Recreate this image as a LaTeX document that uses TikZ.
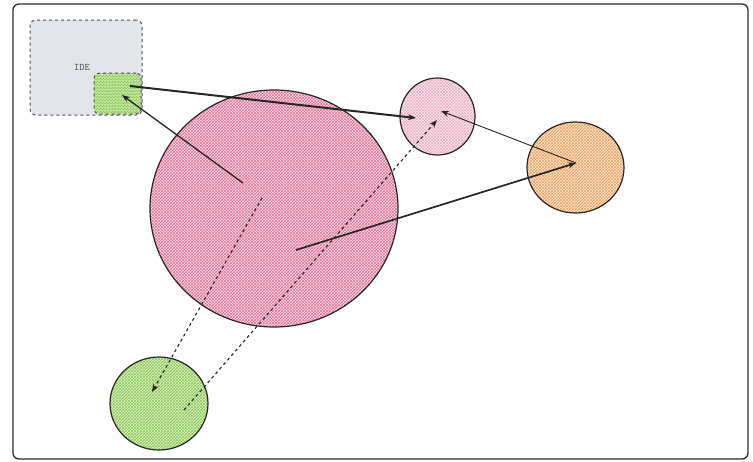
\documentclass[tikz,border=0pt]{standalone}
\usetikzlibrary{shapes.geometric,patterns,arrows.meta}
\definecolor{CorMoldura}{RGB}{45,45,45}
\definecolor{CorCinza}{RGB}{226,229,233}
\definecolor{CorTraco}{RGB}{80,80,80}
\definecolor{CorVerde}{RGB}{115,190,45}
\definecolor{CorRosa}{RGB}{225,70,125}
\definecolor{CorRosaC}{RGB}{238,170,195}
\definecolor{CorLaranja}{RGB}{242,140,55}
\tikzset{
  bola/.style={ellipse,draw=black!85,line width=1.2pt,inner sep=0pt},
  seta/.style={-{Stealth[length=8pt,width=6pt]},black!85},
}
\begin{document}
\begin{tikzpicture}[x=1pt,y=-1pt]
\useasboundingbox(0,0)rectangle(753,461);
\draw[CorMoldura,line width=1.3pt,rounded corners=6pt](13,4)rectangle(748,459);
% IDE
\node[draw=CorTraco,dashed,line width=1pt,rounded corners=6pt,fill=CorCinza,minimum width=112pt,minimum height=95pt](ide)at(86,67.5){};
\node[CorTraco,font=\ttfamily](ideTxt)at(82,67){IDE};
\node[draw=CorTraco,dashed,line width=1pt,rounded corners=5pt,preaction={fill=CorVerde!40},pattern=crosshatch,pattern color=CorVerde!85,minimum width=47pt,minimum height=41pt](plug)at(117.5,93.5){};
% esferas
\node[bola,preaction={fill=CorRosa!15},pattern=crosshatch,pattern color=CorRosa!80,minimum width=248pt,minimum height=237pt](nucleo)at(274,208.5){};
\node[bola,preaction={fill=CorRosaC!20},pattern=crosshatch,pattern color=CorRosaC,minimum width=75pt,minimum height=77pt](api)at(437.5,116.5){};
\node[bola,preaction={fill=CorLaranja!15},pattern=crosshatch,pattern color=CorLaranja!85,minimum width=97pt,minimum height=91pt](ext)at(575.5,167.5){};
\node[bola,preaction={fill=CorVerde!20},pattern=crosshatch,pattern color=CorVerde!85,minimum width=98pt,minimum height=93pt](cli)at(159,403.5){};
% pontas das setas
\coordinate(plugA)at(130,86);\coordinate(plugB)at(122,95);
\coordinate(apiA)at(416,118);\coordinate(apiB)at(441,111);\coordinate(apiC)at(437,120);
\coordinate(nucA)at(243,183);\coordinate(nucB)at(296,250);\coordinate(nucC)at(262,198);
\coordinate(extA)at(576,163);
\coordinate(cliA)at(152,392);\coordinate(cliB)at(184,410);
\draw[seta,line width=2pt](plugA)--(apiA);
\draw[seta,line width=1.3pt](nucA)--(plugB);
\draw[seta,line width=1.7pt](nucB)--(extA);
\draw[seta,line width=.9pt](extA)--(apiB);
\draw[seta,line width=1.1pt,dashed](nucC)--(cliA);
\draw[seta,line width=1.1pt,dashed](cliB)--(apiC);
\end{tikzpicture}
\end{document}
